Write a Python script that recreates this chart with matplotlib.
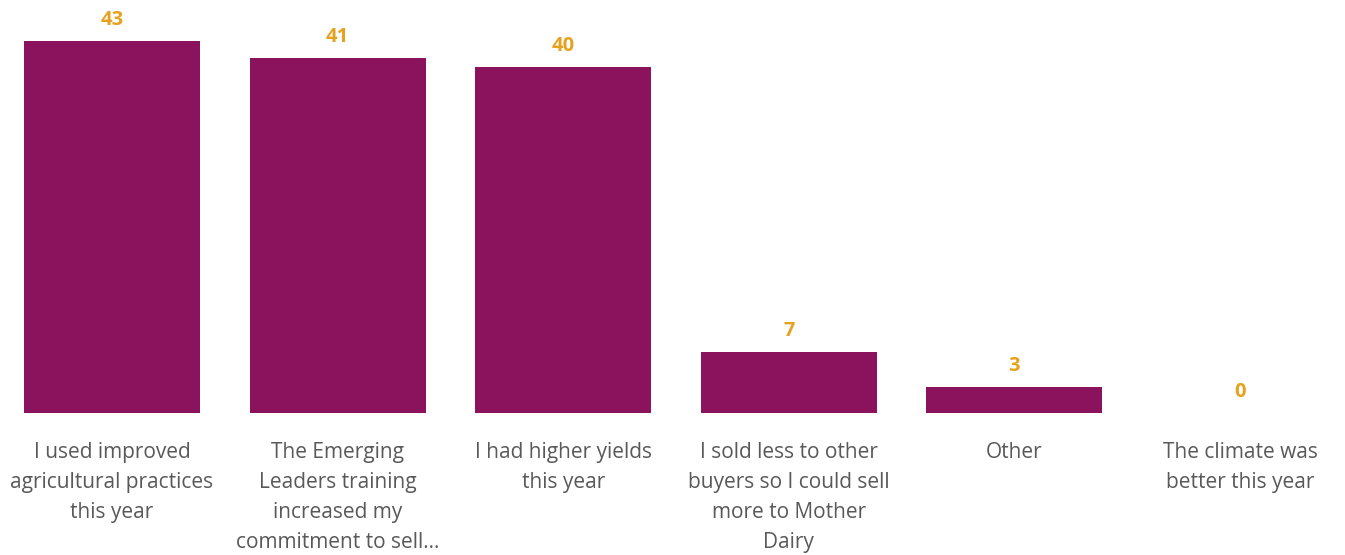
import matplotlib
matplotlib.use("Agg")
import matplotlib.pyplot as plt

categories = [
    "I used improved\nagricultural practices\nthis year",
    "The Emerging\nLeaders training\nincreased my\ncommitment to sell...",
    "I had higher yields\nthis year",
    "I sold less to other\nbuyers so I could sell\nmore to Mother\nDairy",
    "Other",
    "The climate was\nbetter this year",
]
values = [43, 41, 40, 7, 3, 0]

BAR_COLOR = "#8B135E"
VALUE_COLOR = "#E6A11F"
TEXT_COLOR = "#595959"
FONT = "Open Sans"

W, H = 1345, 555
fig = plt.figure(figsize=(W / 100, H / 100), dpi=100)
# axes spans from the baseline (y=413 px) up to the top of the tallest bar (y=41 px)
ax = fig.add_axes([0, (H - 413) / H, 1, (413 - 41) / H])

x = list(range(len(values)))
ax.bar(x, values, width=0.78, color=BAR_COLOR)

spacing = 225.6
ax.set_xlim(-112 / spacing, (W - 112) / spacing)
ax.set_ylim(0, max(values))

for xi, v in zip(x, values):
    ax.annotate(str(v), (xi, v), xytext=(0, 11.5), textcoords="offset points",
                ha="center", va="baseline", fontsize=14.5, fontweight="bold",
                color=VALUE_COLOR, family=FONT, annotation_clip=False)

ax.set_xticks(x)
ax.set_xticklabels(categories, fontsize=15, color=TEXT_COLOR, family=FONT,
                   linespacing=1.56, va="top")
ax.tick_params(axis="x", length=0, pad=21)
ax.set_yticks([])
for s in ax.spines.values():
    s.set_visible(False)

fig.savefig("out.png", dpi=100, facecolor="white")
